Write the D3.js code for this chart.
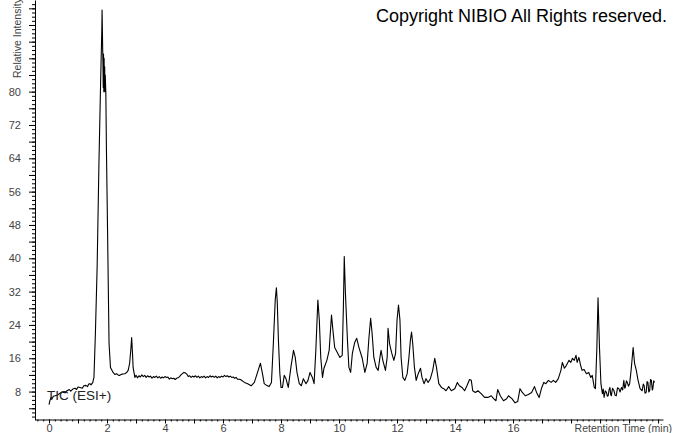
<!DOCTYPE html>
<html>
<head>
<meta charset="utf-8">
<script src="https://cdn.jsdelivr.net/npm/d3@7"></script>
<style>
  html, body { margin: 0; padding: 0; background: #fff; overflow: hidden; }
  svg { display: block; font-family: Arial, "Liberation Sans", sans-serif; }
</style>
</head>
<body>
<div id="tic-chart"></div>
<script>
// chromatogram: [retention time (min), relative intensity]
const baselineStart = [
  [0.00, 4.9], [0.03, 5.8], [0.07, 6.6], [0.10, 6.2], [0.15, 6.9], [0.21, 7.0], [0.30, 7.2],
  [0.38, 7.6], [0.45, 7.9], [0.55, 7.7], [0.62, 8.2], [0.70, 8.5], [0.75, 8.1], [0.82, 8.6],
  [0.90, 8.8], [0.95, 8.5], [1.00, 9.1], [1.07, 9.0], [1.15, 8.8], [1.20, 9.4], [1.27, 9.5],
  [1.33, 9.2], [1.37, 9.8], [1.41, 9.9], [1.45, 9.6], [1.51, 10.2]
]
const mainPeak = [
  [1.55, 11.4], [1.60, 22.0], [1.66, 38.0], [1.72, 62.1], [1.78, 82.4], [1.82, 94.5],
  [1.83, 99.6], [1.85, 90.4], [1.86, 87], [1.87, 81], [1.88, 89], [1.89, 80], [1.90, 88],
  [1.91, 81], [1.92, 86], [1.93, 80], [1.94, 84], [1.96, 79.5], [1.98, 66.2], [2.02, 46.2],
  [2.05, 30.0], [2.07, 19.6], [2.12, 13.8], [2.21, 12.6], [2.27, 12.1], [2.33, 12.3],
  [2.40, 11.9], [2.44, 11.9], [2.52, 12.2], [2.61, 12.3], [2.68, 12.6], [2.73, 13.1],
  [2.78, 14.8], [2.82, 18.0], [2.85, 21.0], [2.88, 17.0], [2.90, 13.8], [2.96, 11.4]
]
const plateau = [
  [3.00, 11.9], [3.05, 11.3], [3.10, 11.8], [3.15, 11.5], [3.20, 12.0], [3.25, 11.6],
  [3.30, 11.9], [3.35, 11.4], [3.40, 11.8], [3.45, 11.5], [3.50, 11.7], [3.55, 11.2],
  [3.60, 11.6], [3.65, 11.4], [3.70, 11.7], [3.75, 11.3], [3.80, 11.6], [3.85, 11.2],
  [3.90, 11.5], [3.95, 11.3], [4.00, 11.6], [4.05, 11.4], [4.10, 11.5], [4.15, 11.0],
  [4.20, 11.3], [4.25, 11.1], [4.30, 11.2], [4.35, 10.9], [4.40, 11.2], [4.45, 11.3],
  [4.50, 11.6], [4.55, 12.0], [4.60, 12.3], [4.65, 12.6], [4.70, 12.5], [4.75, 12.2],
  [4.80, 11.6], [4.85, 11.8], [4.90, 11.4], [4.95, 11.7], [5.00, 11.5], [5.05, 11.8],
  [5.10, 11.4], [5.15, 11.7], [5.20, 11.3], [5.25, 11.6], [5.30, 11.4], [5.35, 11.7],
  [5.40, 11.3], [5.45, 11.6], [5.50, 11.4], [5.55, 11.8], [5.60, 11.5], [5.65, 11.7],
  [5.70, 11.4], [5.75, 11.7], [5.80, 11.3], [5.85, 11.6], [5.90, 11.4], [5.95, 11.7],
  [6.00, 11.5], [6.05, 11.9], [6.10, 11.6], [6.15, 11.8], [6.20, 11.5], [6.25, 11.7],
  [6.30, 11.4], [6.35, 11.5], [6.40, 11.2], [6.45, 11.4], [6.50, 11.0]
]
const peakCluster = [
  [6.60, 10.9], [6.74, 10.2], [6.85, 9.9], [6.97, 9.4], [7.08, 10.2], [7.19, 12.6],
  [7.29, 14.8], [7.36, 12.3], [7.42, 9.9], [7.50, 9.5], [7.59, 9.2], [7.67, 10.2],
  [7.74, 20.3], [7.80, 30.0], [7.84, 32.9], [7.87, 29.5], [7.91, 20.3], [7.96, 12.3],
  [8.00, 9.0], [8.05, 9.0], [8.11, 11.9], [8.17, 11.1], [8.25, 9.0], [8.34, 13.8],
  [8.43, 17.9], [8.49, 16.2], [8.55, 12.6], [8.63, 9.9], [8.70, 9.4], [8.77, 11.1],
  [8.86, 9.9], [8.93, 10.7], [9.00, 12.6], [9.08, 11.4], [9.14, 9.9], [9.20, 17.9],
  [9.27, 30.0], [9.32, 25.2], [9.37, 16.2], [9.43, 11.4], [9.48, 13.6], [9.58, 15.5],
  [9.66, 17.9], [9.74, 26.4], [9.79, 22.7], [9.85, 18.6], [9.94, 17.4], [10.03, 16.2],
  [10.11, 16.7], [10.15, 28.3], [10.18, 40.4], [10.22, 31.7], [10.29, 20.3], [10.34, 13.8],
  [10.40, 12.6], [10.46, 17.2], [10.54, 19.8], [10.61, 20.8], [10.69, 18.5], [10.80, 16.0],
  [10.89, 12.6], [10.97, 14.8], [11.03, 20.8], [11.09, 25.6], [11.14, 22.0], [11.20, 16.2],
  [11.28, 13.8], [11.35, 13.1], [11.41, 16.2], [11.45, 17.9], [11.51, 15.5], [11.60, 13.1],
  [11.66, 16.2], [11.69, 23.2], [11.74, 19.6], [11.81, 17.4], [11.89, 15.5], [11.95, 17.2],
  [12.00, 25.2], [12.05, 28.8], [12.10, 25.2], [12.14, 16.2], [12.20, 11.4], [12.27, 10.7],
  [12.35, 12.3], [12.41, 16.2], [12.46, 20.3], [12.50, 22.3], [12.54, 19.6], [12.60, 13.8],
  [12.66, 10.7], [12.73, 12.3], [12.81, 13.6], [12.86, 11.4], [12.93, 9.9], [13.00, 11.1],
  [13.07, 10.2], [13.15, 11.1], [13.23, 13.1], [13.30, 16.0], [13.36, 13.8], [13.44, 9.9]
]
const lateTrace = [
  [13.53, 9.0], [13.61, 8.7], [13.69, 8.2], [13.78, 9.2], [13.87, 8.2], [13.99, 8.7],
  [14.08, 10.2], [14.15, 9.4], [14.24, 9.0], [14.33, 8.2], [14.41, 9.4], [14.50, 10.9],
  [14.56, 10.7], [14.61, 8.2], [14.70, 7.8], [14.79, 8.2], [14.90, 7.5], [15.02, 6.6],
  [15.13, 6.6], [15.25, 7.0], [15.33, 6.3], [15.41, 5.8], [15.47, 8.5], [15.56, 7.0],
  [15.67, 5.8], [15.78, 6.3], [15.84, 7.0], [15.96, 6.3], [16.07, 5.3], [16.16, 5.6],
  [16.24, 8.7], [16.32, 7.8], [16.42, 7.0], [16.53, 7.3], [16.64, 7.8], [16.74, 9.2],
  [16.81, 7.8], [16.90, 6.6], [16.99, 9.0], [17.06, 10.2], [17.13, 9.9], [17.22, 10.7],
  [17.31, 10.2], [17.39, 10.7], [17.47, 10.2], [17.56, 11.1], [17.65, 13.1], [17.70, 15.0],
  [17.77, 13.6], [17.84, 14.3], [17.93, 15.5], [17.99, 15.0], [18.05, 16.0], [18.11, 15.5],
  [18.17, 16.7], [18.21, 15.0], [18.27, 16.2], [18.33, 14.3], [18.38, 13.1], [18.45, 13.3],
  [18.53, 12.3], [18.61, 12.6], [18.68, 11.4], [18.73, 11.9], [18.80, 9.0], [18.84, 8.7],
  [18.89, 18.6], [18.93, 30.5], [18.98, 18.6], [19.03, 9.9], [19.08, 7.5], [19.11, 8.6],
  [19.14, 6.6], [19.18, 8.2], [19.22, 7.8], [19.25, 6.9], [19.28, 7.0], [19.31, 8.4],
  [19.34, 9.0], [19.37, 7.2], [19.39, 7.0], [19.43, 8.8], [19.48, 8.2], [19.52, 7.1],
  [19.56, 7.0], [19.60, 8.9], [19.65, 8.7], [19.69, 7.9], [19.74, 9.0], [19.78, 8.4],
  [19.82, 10.7], [19.85, 8.8], [19.87, 9.0], [19.91, 10.6], [19.94, 10.2], [19.98, 9.3],
  [20.02, 9.9], [20.07, 13.1], [20.14, 18.6], [20.19, 14.8], [20.25, 13.1], [20.31, 10.7],
  [20.38, 8.7], [20.45, 8.2], [20.49, 9.8], [20.52, 9.4], [20.55, 7.6], [20.59, 7.8],
  [20.62, 10.4], [20.65, 10.2], [20.68, 7.9], [20.71, 8.2], [20.74, 10.9], [20.77, 10.7],
  [20.80, 8.4], [20.82, 8.7], [20.85, 10.6], [20.88, 10.2]
]
const xTickLabels = [0, 2, 4, 6, 8, 10, 12, 14, 16]
const yTickLabels = [8, 16, 24, 32, 40, 48, 56, 64, 72, 80]

const dataset = [].concat(baselineStart, mainPeak, plateau, peakCluster, lateTrace)

// 1. ACCESS DATA
const xAccessor = d => d[0]
const yAccessor = d => d[1]

// 2. DIMENSIONS
const dimensions = {
  width: 673,
  height: 433,
  margin: { top: 0, right: 10, bottom: 14, left: 34.5 }
}
dimensions.boundedWidth = dimensions.width - dimensions.margin.left - dimensions.margin.right
dimensions.boundedHeight = dimensions.height - dimensions.margin.top - dimensions.margin.bottom

// 3. DRAW CANVAS
const wrapper = d3.select("#tic-chart")
  .append("svg")
  .attr("width", dimensions.width)
  .attr("height", dimensions.height)

const bounds = wrapper.append("g")
  .attr("transform", `translate(${dimensions.margin.left},${dimensions.margin.top})`)

// 4. CREATE SCALES
const xScale = d3.scaleLinear()
  .domain([-0.5, 21.17])
  .range([0, dimensions.boundedWidth])
const yScale = d3.scaleLinear()
  .domain([1.3, 102.0])
  .range([dimensions.boundedHeight + 0.5, 0])

// 5. DRAW DATA
const lineGenerator = d3.line()
  .x(d => xScale(xAccessor(d)))
  .y(d => yScale(yAccessor(d)))

bounds.append("path")
  .datum(dataset)
  .attr("d", lineGenerator)
  .attr("fill", "none")
  .attr("stroke", "#000")
  .attr("stroke-width", 1.1)
  .attr("stroke-linejoin", "round")

// 6. DRAW PERIPHERALS
const yAxis = bounds.append("g")
  .attr("transform", "translate(0.5,0)")
yAxis.append("g")
  .call(d3.axisLeft(yScale)
    .tickValues(d3.range(2, 102, 1))
    .tickSize(3).tickSizeOuter(0).tickFormat(""))
yAxis.append("g")
  .call(d3.axisLeft(yScale)
    .tickValues(d3.range(4, 102, 4))
    .tickSize(6).tickSizeOuter(0).tickFormat(""))
  .select(".domain").remove()
yAxis.append("g")
  .call(d3.axisLeft(yScale)
    .tickValues(yTickLabels)
    .tickSize(0).tickPadding(14).tickFormat(d3.format("d")))
  .call(g => g.select(".domain").remove())

const xAxis = bounds.append("g")
  .attr("transform", `translate(0,${dimensions.boundedHeight + 0.5})`)
xAxis.append("g")
  .call(d3.axisBottom(xScale)
    .tickValues(d3.range(-4, 212, 2).map(d => d / 10))
    .tickSize(2).tickSizeOuter(0).tickFormat(""))
xAxis.append("g")
  .call(d3.axisBottom(xScale)
    .tickValues(d3.range(0, 22, 1))
    .tickSize(4).tickSizeOuter(0).tickFormat(""))
  .select(".domain").remove()
xAxis.append("g")
  .call(d3.axisBottom(xScale)
    .tickValues(xTickLabels)
    .tickSize(0).tickPadding(4.5).tickFormat(d3.format("d")))
  .call(g => g.select(".domain").remove())

wrapper.selectAll(".tick text")
  .attr("fill", "#444")
  .style("font-size", "11px")
  .style("font-family", "Arial, 'Liberation Sans', sans-serif")
wrapper.selectAll(".domain, .tick line")
  .attr("stroke", "#000")

// axis titles
xAxis.append("text")
  .attr("x", dimensions.width - dimensions.margin.left - 1)
  .attr("y", 12)
  .attr("text-anchor", "end")
  .attr("fill", "#444")
  .style("font-size", "10.5px")
  .text("Retention Time (min)")

wrapper.append("text")
  .attr("transform", "translate(21,78) rotate(-90)")
  .attr("fill", "#444")
  .style("font-size", "10.5px")
  .text("Relative Intensity")

// annotations
wrapper.append("text")
  .attr("x", 47)
  .attr("y", 400)
  .attr("fill", "#222")
  .style("font-size", "13.5px")
  .text("TIC (ESI+)")

wrapper.append("text")
  .attr("x", 376)
  .attr("y", 21.5)
  .attr("fill", "#000")
  .style("font-size", "18px")
  .text("Copyright NIBIO All Rights reserved.")
</script>
</body>
</html>
